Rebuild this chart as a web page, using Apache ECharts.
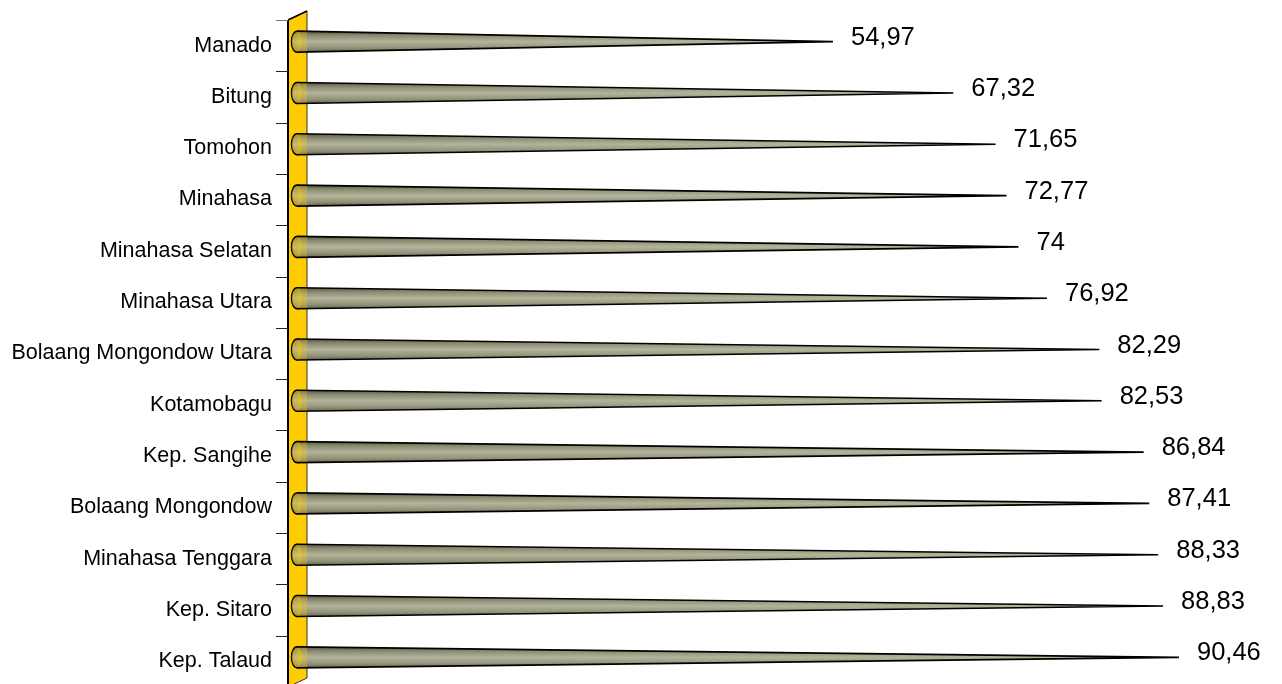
<!DOCTYPE html>
<html><head><meta charset="utf-8">
<script src="https://cdn.jsdelivr.net/npm/echarts@6/dist/echarts.min.js"></script>
<style>html,body{margin:0;padding:0;background:#fff}#c{width:1282px;height:684px}</style>
</head><body><div id="c"></div>
<script>
const categories = ['Manado','Bitung','Tomohon','Minahasa','Minahasa Selatan','Minahasa Utara','Bolaang Mongondow Utara','Kotamobagu','Kep. Sangihe','Bolaang Mongondow','Minahasa Tenggara','Kep. Sitaro','Kep. Talaud'];
const values = [54.97,67.32,71.65,72.77,74,76.92,82.29,82.53,86.84,87.41,88.33,88.83,90.46];
const axisMin = 0;
const axisMax = 100;

const WALL_W = 19, WALL_DY = 9, DEPTH_Y = -4, HALF_H = 10.5, TICK_LEN = 12;
function coneFill(){
  return {type:'linear',x:0,y:0,x2:0,y2:1,colorStops:[
    {offset:0,color:'#55553f'},{offset:0.2,color:'#8a8a70'},{offset:0.5,color:'#b4b49a'},
    {offset:0.8,color:'#929279'},{offset:1,color:'#66664f'}]};
}
const chart = echarts.init(document.getElementById('c'), null, {renderer:'canvas'});
const option = {
  animation:false,
  backgroundColor:'#ffffff',
  grid:{left:297, top:20, width:975, height:667, containLabel:false, outerBoundsMode:'none'},
  xAxis:{type:'value', min:axisMin, max:axisMax, show:false},
  yAxis:{type:'category', data:categories, inverse:true, offset:9,
    axisLine:{show:false},
    axisTick:{show:false},
    axisLabel:{margin:16, color:'#000', fontSize:21.5, padding:[4,0,0,0], fontFamily:'"Liberation Sans", Arial, sans-serif'}},
  series:[
    {type:'custom', z:1, data:[0], silent:true,
     renderItem:function(params, api){
       const cs = params.coordSys;
       const x = cs.x - 9, top = cs.y, bot = cs.y + cs.height;
       const band = cs.height / categories.length;
       const kids = [
         {type:'polygon', shape:{points:[[x,top],[x+WALL_W,top-WALL_DY],[x+WALL_W,bot-WALL_DY],[x,bot]]},
          style:{fill:'#FFCC00', stroke:'#333', lineWidth:1}},
         {type:'line', shape:{x1:x,y1:top,x2:x,y2:bot}, style:{stroke:'#000', lineWidth:2}},
         {type:'line', shape:{x1:x,y1:top,x2:x+WALL_W,y2:top-WALL_DY}, style:{stroke:'#000', lineWidth:1.5}}
       ];
       for (let i = 0; i <= categories.length; i++) {
         const ty = Math.round(top + i*band) + 0.5;
         kids.push({type:'line', shape:{x1:x-TICK_LEN, y1:ty, x2:x, y2:ty}, style:{stroke:i===0?'#777':'#222', lineWidth:1}});
       }
       return {type:'group', children:kids};
     }},
    {type:'custom', z:2, silent:true,
     data: values.map((v,i)=>[v,i]),
     encode:{x:0,y:1},
     renderItem:function(params, api){
       const cs = params.coordSys;
       const v = api.value(0);
       const tip = api.coord([v, api.value(1)]);
       const base = api.coord([axisMin, api.value(1)]);
       const cy = tip[1] + DEPTH_Y;
       const bx = base[0], tx = tip[0];
       const wallR = cs.x - 9 + WALL_W;
       const frac = (wallR - bx)/(tx - bx);
       const hR = HALF_H*(1-frac);
       const txt = String(v).replace('.', ',');
       return {type:'group', children:[
         {type:'ellipse', shape:{cx:bx, cy:cy, rx:5.5, ry:HALF_H}, style:{fill:coneFill(), stroke:'#000', lineWidth:1.5}},
         {type:'polygon', shape:{points:[[bx,cy-HALF_H],[tx,cy],[bx,cy+HALF_H]]}, style:{fill:coneFill()}},
         {type:'polyline', shape:{points:[[bx,cy-HALF_H],[tx,cy],[bx,cy+HALF_H]]}, style:{stroke:'#000', lineWidth:1.6, fill:null}},
         {type:'ellipse', shape:{cx:bx, cy:cy, rx:5.5, ry:HALF_H-0.8}, style:{fill:'rgba(255,204,0,0.3)'}},
         {type:'polygon', shape:{points:[[bx,cy-HALF_H+0.8],[wallR,cy-hR+0.8],[wallR,cy+hR-0.8],[bx,cy+HALF_H-0.8]]}, style:{fill:'rgba(255,204,0,0.3)'}},
         {type:'text', x:tx+18, y:cy-4, style:{text:txt, fill:'#000', fontSize:25.5, fontFamily:'"Liberation Sans", Arial, sans-serif', verticalAlign:'middle', align:'left'}}
       ]};
     }}
  ]
};
chart.setOption(option);
</script></body></html>
